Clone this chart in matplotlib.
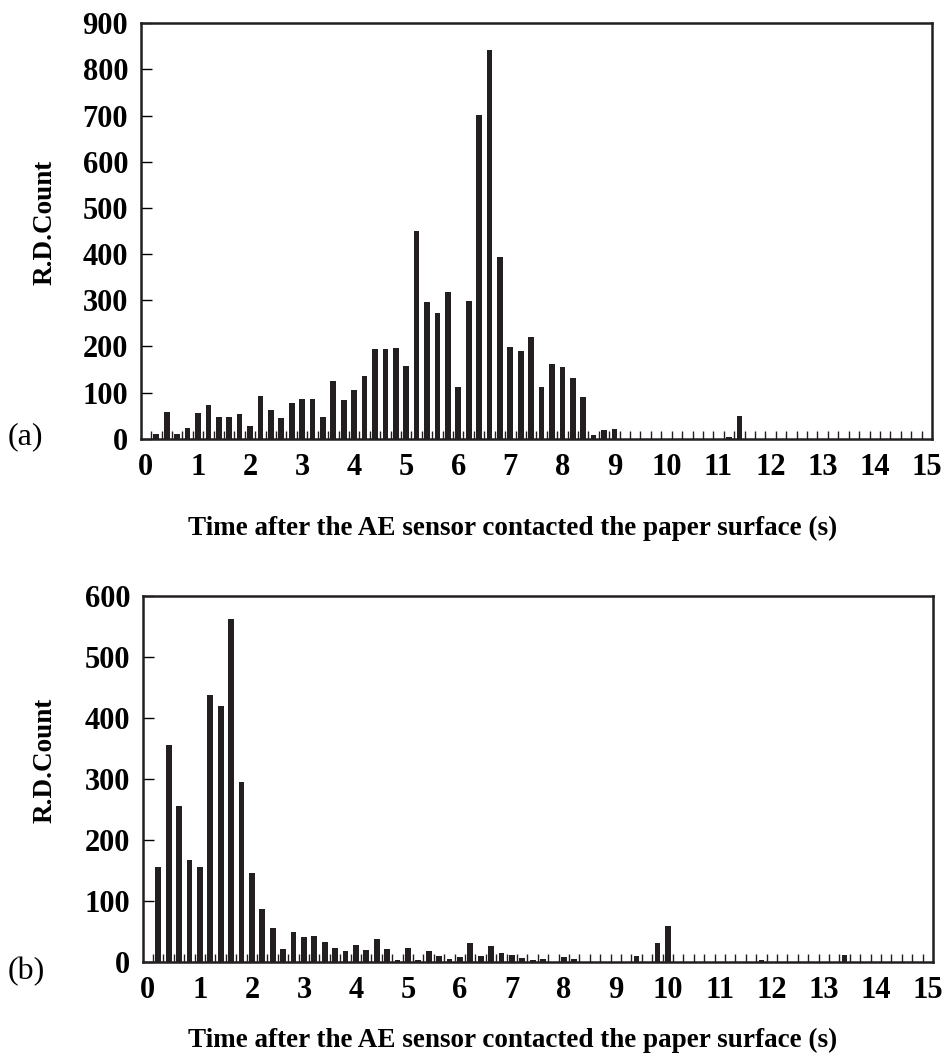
import numpy as np
import matplotlib
matplotlib.use('Agg')
import matplotlib.pyplot as plt

plt.rcParams['font.family'] = ['Liberation Serif', 'DejaVu Serif']

# time bins of 0.2 s, 0 .. 15 s
times = [round(0.2 * i, 1) for i in range(76)]
tick_labels = [str(i) for i in range(16)]

counts_a = [0, 10, 57, 10, 24, 55, 74, 46, 46, 53,
            27, 92, 63, 45, 78, 85, 87, 48, 124, 83,
            105, 135, 194, 194, 196, 158, 449, 296, 272, 317,
            113, 299, 702, 842, 394, 199, 191, 221, 111, 162,
            155, 131, 91, 8, 18, 22, 0, 0, 0, 0,
            0, 0, 0, 0, 0, 0, 3, 50, 0, 0,
            0, 0, 0, 0, 0, 0, 0, 0, 0, 0,
            0, 0, 0, 0, 0, 0]

counts_b = [0, 156, 356, 256, 166, 156, 438, 420, 561, 295,
            146, 86, 55, 21, 49, 41, 42, 33, 22, 17,
            27, 20, 37, 21, 3, 22, 3, 17, 10, 4,
            8, 31, 10, 25, 14, 11, 6, 3, 4, 0,
            8, 4, 0, 0, 0, 0, 0, 9, 0, 31,
            58, 0, 0, 0, 0, 0, 0, 0, 0, 3,
            0, 0, 0, 0, 0, 0, 0, 11, 0, 0,
            0, 0, 0, 0, 0, 0]

W, H = 944, 1062
fig = plt.figure(figsize=(W / 100, H / 100), dpi=100)

bar_color = '#231f20'


def draw_panel(rect, counts, ymax, ystep, tag, tag_y, label_y):
    ax = fig.add_axes(rect)
    x = np.arange(len(times))
    ax.bar(x, counts, width=0.55, color=bar_color, zorder=3)
    ax.set_xlim(-0.5, len(times) - 0.5)
    ax.set_ylim(0, ymax)
    ax.set_yticks(np.arange(0, ymax + 1, ystep))
    ax.set_yticklabels([str(v) for v in np.arange(0, ymax + 1, ystep)],
                       fontsize=22, fontweight='bold')
    ax.set_xticks(x[::5])
    ax.set_xticklabels(tick_labels, fontsize=22, fontweight='bold')
    ax.set_xticks(np.arange(0.5, len(times) - 1, 1), minor=True)
    ax.tick_params(axis='x', which='major', length=0, pad=10)
    ax.tick_params(axis='x', which='minor', direction='in', length=6,
                   width=1.0, color='#231f20')
    ax.tick_params(axis='y', direction='in', length=8, width=1.0, pad=9)
    for s in ax.spines.values():
        s.set_linewidth(1.8)
        s.set_color('#231f20')
    fig.text(45 / W, 1 - label_y / H, 'R.D.Count', rotation=90,
             fontsize=19.5, fontweight='bold', ha='center', va='center')
    fig.text(513 / W, 1 - tag_y[1] / H,
             'Time after the AE sensor contacted the paper surface (s)',
             fontsize=19.5, fontweight='bold', ha='center', va='center')
    fig.text(8 / W, 1 - tag_y[0] / H, tag, fontsize=23,
             ha='left', va='center')
    return ax


# panel (a)
left_a, right_a, top_a, bot_a = 140.7, 932, 23.3, 438.7
draw_panel([left_a / W, 1 - bot_a / H, (right_a - left_a) / W,
            (bot_a - top_a) / H],
           counts_a, 900, 100, '(a)', (437, 528), 222)

# panel (b)
left_b, right_b, top_b, bot_b = 142.7, 933, 595.7, 961.7
draw_panel([left_b / W, 1 - bot_b / H, (right_b - left_b) / W,
            (bot_b - top_b) / H],
           counts_b, 600, 100, '(b)', (972, 1040), 760)

fig.savefig('out.png', dpi=100)
